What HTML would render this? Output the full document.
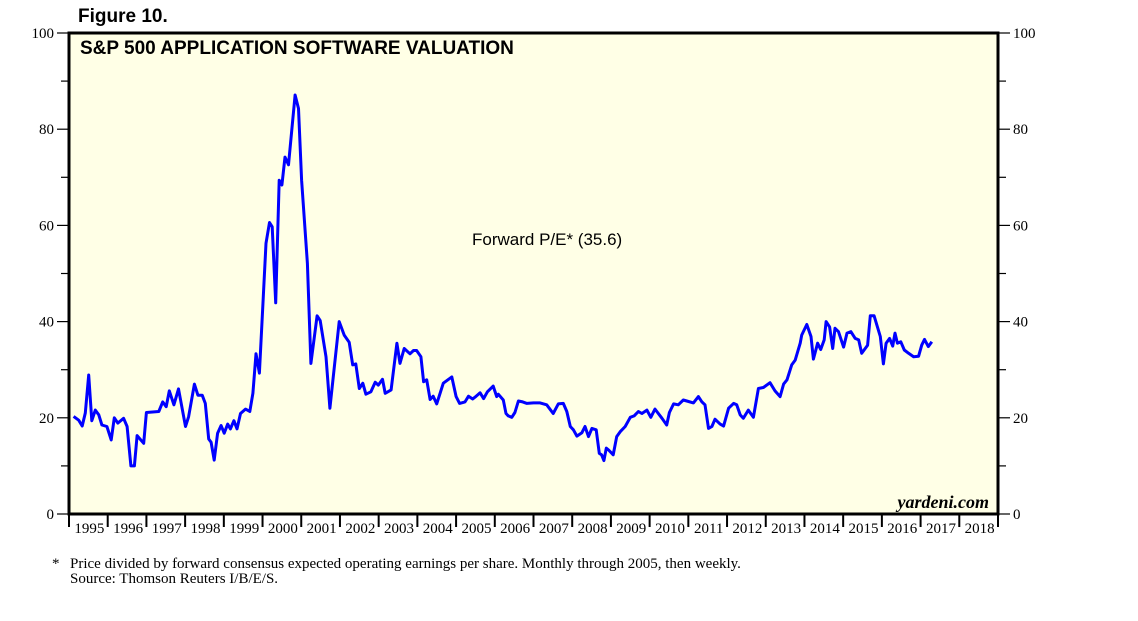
<!DOCTYPE html>
<html><head><meta charset="utf-8"><style>
body{margin:0;background:#fff;}
svg{display:block;}
</style></head><body>
<svg id="chart" width="1138" height="621" xmlns="http://www.w3.org/2000/svg">
<text x="78" y="22" font-family="Liberation Sans, sans-serif" font-weight="bold" font-size="19">Figure 10.</text>
<rect x="69" y="33" width="929" height="481" fill="#ffffe6" stroke="#000" stroke-width="3"/>
<text x="80" y="54" font-family="Liberation Sans, sans-serif" font-weight="bold" font-size="19">S&amp;P 500 APPLICATION SOFTWARE VALUATION</text>
<text x="472" y="245" font-family="Liberation Sans, sans-serif" font-size="17">Forward P/E* (35.6)</text>
<text x="989" y="508" text-anchor="end" font-family="Liberation Serif, serif" font-weight="bold" font-style="italic" font-size="18">yardeni.com</text>
<g id="axes"></g>
<path id="line" fill="none" stroke="#0000ff" stroke-width="3" stroke-linejoin="round"/>
<text id="lastlbl" font-family="Liberation Sans, sans-serif" font-size="15" fill="#0000ff">5/11</text>
<text x="52" y="568" font-family="Liberation Serif, serif" font-size="15">*</text>
<text x="70" y="568" font-family="Liberation Serif, serif" font-size="15">Price divided by forward consensus expected operating earnings per share. Monthly through 2005, then weekly.</text>
<text x="70" y="583" font-family="Liberation Serif, serif" font-size="15">Source: Thomson Reuters I/B/E/S.</text>
</svg>
<script>
const years = [1995,1996,1997,1998,1999,2000,2001,2002,2003,2004,2005,2006,2007,2008,2009,2010,2011,2012,2013,2014,2015,2016,2017,2018];
const yTicks = [0,20,40,60,80,100];
const dates = [1995.12,1995.25,1995.34,1995.42,1995.51,1995.59,1995.68,1995.77,1995.85,1995.98,1996.09,1996.17,1996.26,1996.41,1996.50,1996.60,1996.69,1996.76,1996.93,1997.00,1997.32,1997.42,1997.51,1997.59,1997.71,1997.83,1998.01,1998.09,1998.24,1998.33,1998.44,1998.52,1998.61,1998.67,1998.75,1998.84,1998.93,1999.01,1999.10,1999.17,1999.26,1999.34,1999.43,1999.56,1999.67,1999.75,1999.83,1999.92,2000.02,2000.09,2000.18,2000.25,2000.34,2000.43,2000.50,2000.58,2000.67,2000.84,2000.93,2001.01,2001.16,2001.25,2001.41,2001.49,2001.64,2001.74,2001.98,2002.11,2002.24,2002.33,2002.41,2002.50,2002.59,2002.67,2002.80,2002.91,2002.99,2003.10,2003.17,2003.32,2003.47,2003.55,2003.66,2003.81,2003.90,2003.98,2004.09,2004.16,2004.24,2004.33,2004.41,2004.50,2004.67,2004.89,2005.00,2005.09,2005.23,2005.32,2005.43,2005.49,2005.62,2005.71,2005.81,2005.96,2006.05,2006.09,2006.22,2006.29,2006.35,2006.44,2006.52,2006.61,2006.72,2006.83,2007.00,2007.17,2007.34,2007.51,2007.64,2007.77,2007.86,2007.95,2008.03,2008.12,2008.25,2008.33,2008.42,2008.51,2008.62,2008.70,2008.76,2008.82,2008.88,2008.94,2009.06,2009.15,2009.24,2009.37,2009.50,2009.60,2009.71,2009.80,2009.93,2010.03,2010.14,2010.32,2010.44,2010.51,2010.62,2010.74,2010.87,2010.96,2011.13,2011.26,2011.35,2011.43,2011.52,2011.61,2011.69,2011.82,2011.91,2012.04,2012.17,2012.25,2012.34,2012.42,2012.55,2012.68,2012.81,2012.94,2013.11,2013.24,2013.37,2013.46,2013.55,2013.67,2013.76,2013.89,2013.93,2014.06,2014.17,2014.23,2014.34,2014.42,2014.51,2014.56,2014.65,2014.73,2014.79,2014.88,2015.01,2015.10,2015.20,2015.31,2015.40,2015.48,2015.63,2015.70,2015.80,2015.96,2016.04,2016.11,2016.20,2016.28,2016.34,2016.40,2016.49,2016.58,2016.69,2016.82,2016.95,2017.03,2017.10,2017.20,2017.29,2017.35];
const pe = [20.3,19.5,18.3,21,28.9,19.4,21.6,20.6,18.5,18.2,15.4,20,18.9,19.9,18.2,10,10,16.3,14.7,21.1,21.3,23.3,22.3,25.6,22.7,26,18.2,20.2,27,24.7,24.7,23,15.6,14.9,11.2,16.8,18.4,16.8,18.7,17.7,19.4,17.7,20.9,21.8,21.3,25.1,33.3,29.3,45.2,56.3,60.6,59.7,43.9,69.4,68.4,74.2,72.6,87.1,84.3,69.4,52.1,31.3,41.2,40.2,32.7,22,40,37.2,35.7,31,31.2,26.1,27.2,24.9,25.4,27.4,26.8,28,25.1,25.8,35.5,31.3,34.4,33.3,34,34,32.7,27.5,27.9,23.8,24.5,22.9,27.2,28.5,24.4,23,23.3,24.5,23.9,24.3,25.2,24,25.4,26.6,24.4,24.9,23.7,20.9,20.4,20.1,21.1,23.5,23.3,23,23.1,23.1,22.7,20.9,22.9,23,21.3,18.2,17.5,16.2,16.9,18.2,16.1,17.8,17.5,12.6,12.3,11.1,13.7,13.3,12.3,16.1,17.1,18.2,20.1,20.4,21.3,20.9,21.6,20.1,21.8,19.9,18.5,21.1,22.9,22.7,23.7,23.5,23.1,24.4,23.3,22.7,17.8,18.2,19.7,18.7,18.3,22,23,22.7,20.6,19.9,21.6,20.1,26.1,26.3,27.3,25.6,24.4,27,27.9,31,32,35.5,37.2,39.4,36.9,32.2,35.5,34.2,36.2,40,38.9,34.4,38.6,37.9,34.7,37.6,37.9,36.5,36.2,33.4,35.1,41.2,41.2,36.9,31.2,35.5,36.5,34.9,37.6,35.5,35.8,34.1,33.4,32.7,32.8,35.1,36.3,34.8,35.8];

const X0 = 69, X1 = 998, Y0 = 514, Y1 = 33;
const xScale = t => X0 + (t - 1995) / 24 * (X1 - X0);
const yScale = v => Y0 - v / 100 * (Y0 - Y1);
const NS = 'http://www.w3.org/2000/svg';
const axes = document.getElementById('axes');
function mk(tag, attrs, txt){const e=document.createElementNS(NS,tag);for(const k in attrs)e.setAttribute(k,attrs[k]);if(txt!==undefined)e.textContent=txt;axes.appendChild(e);return e;}

for (let v = 0; v <= 100; v += 10) {
  const y = yScale(v); const major = v % 20 === 0;
  const l1 = mk('line',{x1:major?57:61,x2:X0,y1:y,y2:y,stroke:'#000','stroke-width':1.2});
  
  
  const l2 = mk('line',{x1:X1,x2:major?1010:1006,y1:y,y2:y,stroke:'#000','stroke-width':1.2});
  
  
}
yTicks.forEach(v => {
  const y = yScale(v) + 5;
  const a = mk('text',{x:54,y:y,'text-anchor':'end','font-family':'Liberation Serif, serif','font-size':15}, String(v));
  
  
  const b = mk('text',{x:1013,y:y,'font-family':'Liberation Serif, serif','font-size':15}, String(v));
  
  
});
years.forEach(yr => {
  const x = xScale(yr);
  const t = mk('line',{x1:x,x2:x,y1:Y0,y2:527,stroke:'#000','stroke-width':2});
  
  
  const lbl = mk('text',{x:(x + xScale(yr+1))/2 + 1,y:533,'text-anchor':'middle','font-family':'Liberation Serif, serif','font-size':15}, String(yr));
  
  
});
const tEnd = mk('line',{x1:X1,x2:X1,y1:Y0,y2:527,stroke:'#000','stroke-width':2});



let d = '';
dates.forEach((t,i) => { d += (i ? 'L' : 'M') + xScale(t).toFixed(1) + ',' + yScale(pe[i]).toFixed(1); });
document.getElementById('line').setAttribute('d', d);
const last = dates.length - 1;
const ll = document.getElementById('lastlbl');
ll.setAttribute('x', xScale(dates[last]) + 5);
ll.setAttribute('y', yScale(pe[last]) + 5);
</script>
</body></html>
